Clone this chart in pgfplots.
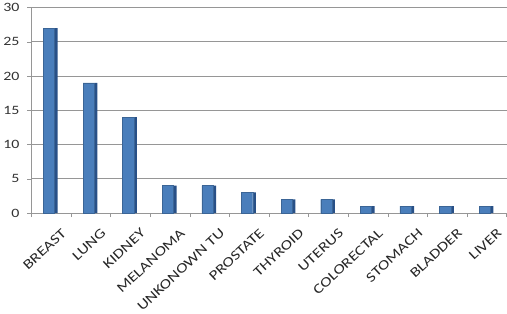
\documentclass[border=0pt]{standalone}
\usepackage{pgfplots}
\pgfplotsset{compat=1.18}
\usepackage{fontspec}
\setmainfont[FakeStretch=1.25]{Carlito}
\definecolor{barfront}{RGB}{74,126,187}
\definecolor{barside}{RGB}{40,80,135}
\definecolor{gridc}{RGB}{150,150,150}
\begin{document}
\begin{tikzpicture}
\begin{axis}[
  scale only axis,
  width=465bp, height=201bp,
  xmin=-0.5, xmax=11.5,
  ymin=0, ymax=30,
  ytick={0,5,...,30},
  xtick={0,...,11},
  xticklabels={BREAST,LUNG,KIDNEY,MELANOMA,UNKONOWN TU,PROSTATE,THYROID,UTERUS,COLORECTAL,STOMACH,BLADDER,LIVER},
  x tick label style={rotate=43, anchor=north east, font=\fontsize{13.5}{13.5}\selectfont, text=black!85, inner sep=1pt, xshift=1pt, yshift=-13pt},
  y tick label style={font=\fontsize{12.5}{13}\selectfont, text=black!80, xshift=-4pt},
  /pgf/number format/assume math mode=true,
  major x tick style={draw=none},
  minor xtick={-0.5,0.5,...,11.5},
  minor tick length=4pt,
  major tick length=4pt,
  tick align=outside,
  minor x tick style={gridc},
  major y tick style={gridc},
  axis x line*=bottom,
  axis y line*=left,
  axis line style={gridc, -},
  ymajorgrids,
  grid style={gridc, line width=0.8pt},
  ybar, bar width=11bp,
]
\addplot[fill=barside, draw=none, bar shift=5bp, bar width=3bp] coordinates {(0,27) (1,19) (2,14) (3,4) (4,4) (5,3) (6,2) (7,2) (8,1) (9,1) (10,1) (11,1)};
\addplot[fill=barfront, draw=barfront!80!black, line width=0.3pt, bar shift=-2bp] coordinates {(0,27) (1,19) (2,14) (3,4) (4,4) (5,3) (6,2) (7,2) (8,1) (9,1) (10,1) (11,1)};
\end{axis}
\end{tikzpicture}
\end{document}
